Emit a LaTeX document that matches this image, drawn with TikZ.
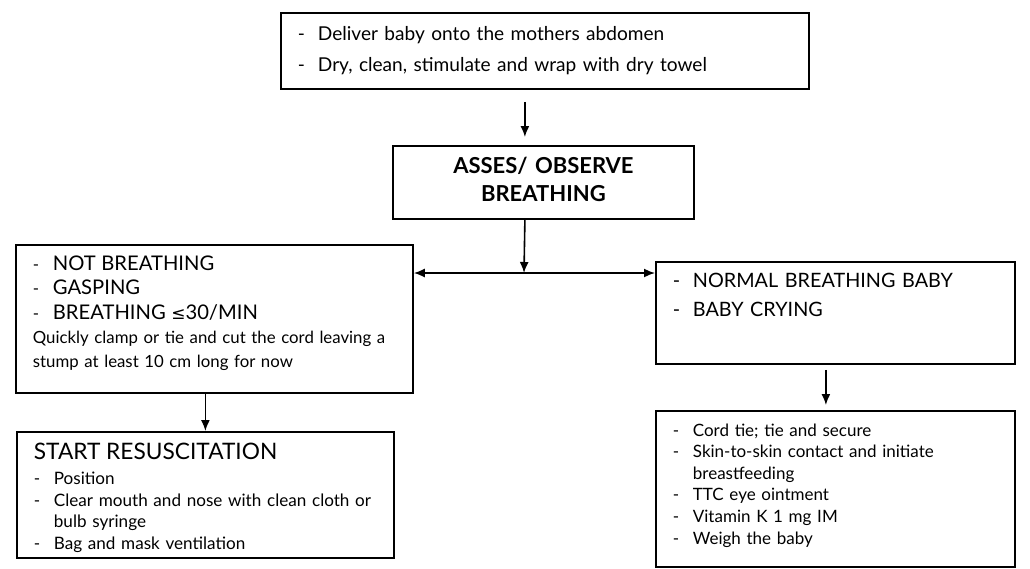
\documentclass[tikz,border=0pt]{standalone}
\usepackage{fontspec}
\setmainfont{Lato}
\newfontfamily\symfont{DejaVu Sans}
\usetikzlibrary{arrows.meta}

\newcommand{\dashitem}{\makebox[20pt][l]{-}}
\newcommand{\contitem}{\hspace*{20pt}}
\newcommand{\capsize}{\fontsize{20.2}{24.3}\selectfont}

\begin{document}
\begin{tikzpicture}[x=1pt,y=-1pt,
		box/.style={draw, line width=1.8pt, anchor=north west, inner ysep=0pt, inner xsep=17pt, align=left},
		arr/.style={-{Latex[length=11pt,width=9pt]}, line width=1.6pt}]
		\useasboundingbox (0,0) rectangle (1030,568);

		\node[box, text width=494pt, minimum height=76pt, font=\fontsize{19.1}{31}\selectfont] (deliver) at (280,12)
			{\dashitem Deliver baby onto the mothers abdomen\\
			 \dashitem Dry, clean, stimulate and wrap with dry towel};
		\node[box, align=center, text width=267pt, minimum height=73pt, font=\bfseries\fontsize{22}{28}\selectfont] (assess) at (392,145)
			{ASSES/ OBSERVE\\ BREATHING\rule[-7pt]{0pt}{0pt}};
		\node[box, text width=363pt, minimum height=148pt, font=\fontsize{16.8}{24.3}\selectfont] (notbr) at (15,244)
			{\dashitem{\capsize NOT BREATHING}\\
			 \dashitem{\capsize GASPING}\\
			 \dashitem{\capsize BREATHING {\symfont\fontsize{17}{20}\selectfont ≤}30/MIN}\\
			 Quickly clamp or tie and cut the cord leaving a\\
			 stump at least 10 cm long for now\rule[-14pt]{0pt}{0pt}};
		\node[box, text width=343pt, minimum height=126pt, font=\fontsize{17.1}{21.5}\selectfont] (resus) at (16,431)
			{\rule{0pt}{22pt}{\fontsize{22.7}{26}\selectfont START RESUSCITATION}\\[3.5pt]
			 \dashitem Position\\
			 \dashitem Clear mouth and nose with clean cloth or\\
			 \contitem bulb syringe\\
			 \dashitem Bag and mask ventilation};
		\node[box, text width=325pt, minimum height=102pt, font=\fontsize{19.8}{29}\selectfont] (normal) at (655,261)
			{\dashitem NORMAL BREATHING BABY\\
			 \dashitem BABY CRYING\rule[-36pt]{0pt}{0pt}};
		\node[box, text width=325pt, minimum height=156pt, font=\fontsize{17}{21.6}\selectfont] (care) at (655,410)
			{\dashitem Cord tie; tie and secure\\
			 \dashitem Skin-to-skin contact and initiate\\
			 \contitem breastfeeding\\
			 \dashitem TTC eye ointment\\
			 \dashitem Vitamin K 1 mg IM\\
			 \dashitem Weigh the baby\rule[-10pt]{0pt}{0pt}};

		\coordinate (split) at (524,273);

		\draw[arr, shorten <=12pt, shorten >=8pt] ([xshift=-20pt]deliver.south) -- ([xshift=-18.5pt]assess.north);
		\draw[arr] ([xshift=-18.5pt]assess.south) -- (split);
		\draw[arr] (split) -- (split -| notbr.east);
		\draw[arr] (split) -- (split -| normal.west);
		\draw[arr] (notbr.south -| resus.north) -- (resus.north);
		\draw[arr, shorten <=5pt, shorten >=5pt] ([xshift=-9.5pt]normal.south) -- ([xshift=-9.5pt]care.north);

	\end{tikzpicture}
\end{document}
